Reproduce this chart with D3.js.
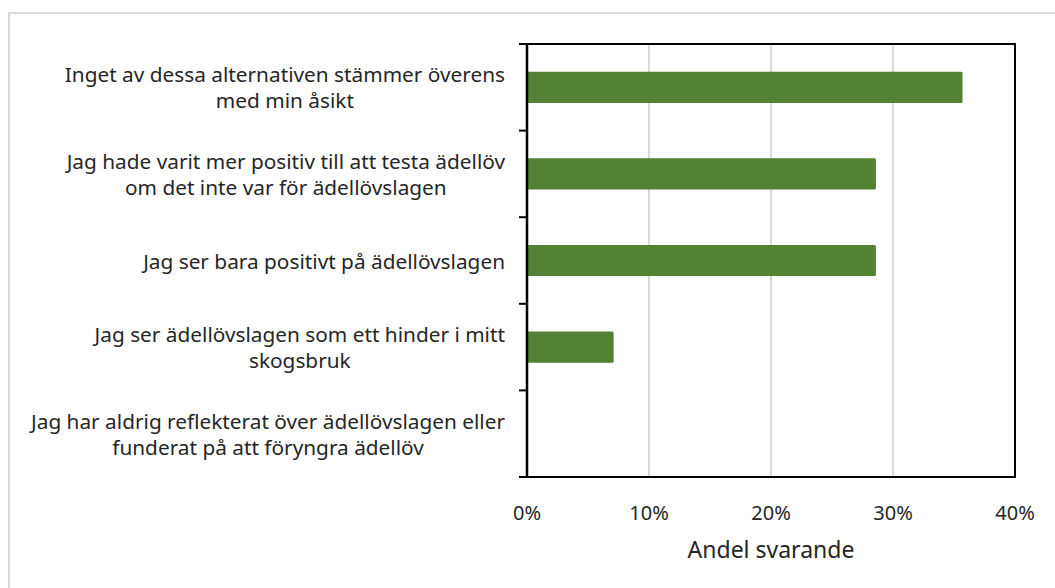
<!DOCTYPE html>
<html>
<head>
<meta charset="utf-8">
<script src="https://cdn.jsdelivr.net/npm/d3@7"></script>
<style>
  body { margin: 0; background: #fff; }
  text { font-family: 'Noto Sans', sans-serif; fill: #262626; }
</style>
</head>
<body>
<div id="chart"></div>
<script>
const categories = [
  ['Inget av dessa alternativen stämmer överens', 'med min åsikt'],
  ['Jag hade varit mer positiv till att testa ädellöv', 'om det inte var för ädellövslagen'],
  ['Jag ser bara positivt på ädellövslagen'],
  ['Jag ser ädellövslagen som ett hinder i mitt', 'skogsbruk'],
  ['Jag har aldrig reflekterat över ädellövslagen eller', 'funderat på att föryngra ädellöv']
]
const values = [0.357, 0.286, 0.286, 0.071, 0]
const xTicks = [0, 0.1, 0.2, 0.3, 0.4]
const xTitle = 'Andel svarande'

const width = 1055
const height = 588
const margin = { top: 44, left: 527, right: 40, bottom: 111 }
const innerW = width - margin.left - margin.right
const innerH = height - margin.top - margin.bottom

const svg = d3
  .select('#chart')
  .append('svg')
  .attr('width', width)
  .attr('height', height)

// outer chart-area border (only top and left are visible in the frame)
svg
  .append('rect')
  .attr('x', 9)
  .attr('y', 13)
  .attr('width', width + 20)
  .attr('height', height + 20)
  .attr('fill', 'none')
  .attr('stroke', '#d9d9d9')
  .attr('stroke-width', 2)

const g = svg
  .append('g')
  .attr('transform', 'translate(' + margin.left + ',' + margin.top + ')')

const x = d3.scaleLinear().domain([0, 0.4]).range([0, innerW])
const y = d3
  .scaleBand()
  .domain(d3.range(categories.length))
  .range([0, innerH])
  .paddingInner(0.64)
  .paddingOuter(0.32)

// gridlines
g.selectAll('.grid')
  .data(xTicks.slice(1, -1))
  .enter()
  .append('line')
  .attr('class', 'grid')
  .attr('x1', d => x(d))
  .attr('x2', d => x(d))
  .attr('y1', 0)
  .attr('y2', innerH)
  .attr('stroke', '#d9d9d9')
  .attr('stroke-width', 2)

// bars
g.selectAll('.bar')
  .data(values)
  .enter()
  .append('rect')
  .attr('class', 'bar')
  .attr('x', 0)
  .attr('y', (d, i) => y(i))
  .attr('width', d => x(d))
  .attr('height', y.bandwidth())
  .attr('rx', 1.5)
  .attr('fill', '#548235')

// plot frame (top + right)
g.append('path')
  .attr('d', `M0,0H${innerW}V${innerH}H0`)
  .attr('fill', 'none')
  .attr('stroke', '#000')
  .attr('stroke-width', 2)

// y axis with ticks at category boundaries
const step = innerH / categories.length
const boundaries = d3.range(categories.length + 1).map(i => i * step)
g.append('line')
  .attr('x1', 0)
  .attr('x2', 0)
  .attr('y1', -1)
  .attr('y2', innerH + 1)
  .attr('stroke', '#000')
  .attr('stroke-width', 2.5)
g.selectAll('.ytick')
  .data(boundaries)
  .enter()
  .append('line')
  .attr('class', 'ytick')
  .attr('x1', -8)
  .attr('x2', 0)
  .attr('y1', d => d)
  .attr('y2', d => d)
  .attr('stroke', '#000')
  .attr('stroke-width', 2)

// category labels: block right-aligned, lines centered inside block
const labelRight = -22
const lineH = 26
const fontSize = 20.8
categories.forEach((lines, i) => {
  const cy = y(i) + y.bandwidth() / 2
  const grp = g.append('g')
  const texts = grp
    .selectAll('text')
    .data(lines)
    .enter()
    .append('text')
    .attr('text-anchor', 'middle')
    .attr('dominant-baseline', 'central')
    .style('font-size', fontSize + 'px')
    .attr('y', (d, j) => cy + (j - (lines.length - 1) / 2) * lineH)
    .text(d => d)
  const maxW = d3.max(texts.nodes(), n => n.getComputedTextLength())
  texts.attr('x', labelRight - maxW / 2)
})

// x tick labels
g.selectAll('.xlabel')
  .data(xTicks)
  .enter()
  .append('text')
  .attr('class', 'xlabel')
  .attr('x', d => x(d))
  .attr('y', innerH + 35)
  .attr('text-anchor', 'middle')
  .attr('dominant-baseline', 'central')
  .style('font-size', '20px')
  .text(d => d3.format('.0%')(d))

// x axis title
g.append('text')
  .attr('x', innerW / 2)
  .attr('y', innerH + 72)
  .attr('text-anchor', 'middle')
  .attr('dominant-baseline', 'central')
  .style('font-size', '23px')
  .text(xTitle)
</script>
</body>
</html>
